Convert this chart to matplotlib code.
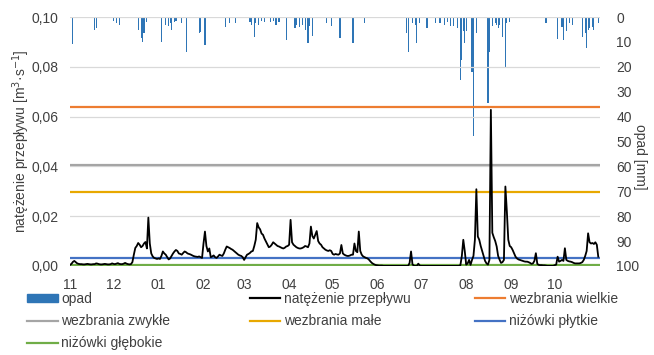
import matplotlib
matplotlib.use("Agg")
import matplotlib.pyplot as plt
from matplotlib.patches import Patch
from matplotlib.lines import Line2D

plt.rcParams['font.family'] = ['Liberation Sans', 'DejaVu Sans']

# natężenie przepływu, dane dobowe w l/s (rok hydrologiczny XI-X)
q_lis = [0.4, 0.8, 1.6, 2.0, 1.5, 1.0, 0.8, 0.7, 0.7, 0.6, 0.6, 0.7, 0.8, 0.7, 0.6,
         0.6, 0.7, 0.7, 1.0, 0.9, 0.7, 0.6, 0.6, 0.7, 0.8, 0.7, 0.6, 0.6, 0.7, 1.0]
q_gru = [0.8, 0.7, 0.9, 1.1, 0.8, 0.7, 0.7, 0.9, 1.2, 0.9, 0.7, 0.6, 0.7, 1.5, 4.5, 7.2,
         8.0, 9.2, 8.5, 7.5, 8.0, 9.0, 9.6, 7.0, 19.4, 9.0, 5.0, 3.8, 3.2, 3.0, 2.8]
q_sty = [3.0, 2.8, 4.0, 5.8, 5.0, 4.5, 3.5, 2.6, 3.0, 4.0, 5.0, 5.8, 6.4, 6.0, 5.0, 4.8,
         4.5, 5.2, 5.8, 5.5, 5.0, 4.8, 4.6, 4.3, 4.0, 3.8, 3.7, 3.6, 3.8, 3.5, 3.2]
q_lut = [9.0, 13.8, 8.0, 5.8, 7.0, 3.5, 3.8, 4.2, 3.5, 3.2, 3.8, 4.5, 4.2, 4.0, 5.0, 6.5,
         7.8, 7.5, 7.2, 6.8, 6.5, 6.0, 5.5, 5.0, 4.5, 4.2, 4.0, 3.5]
q_mar = [2.4, 3.5, 4.5, 4.8, 5.2, 5.8, 6.0, 8.0, 10.5, 17.2, 15.5, 14.7, 13.0, 12.5, 11.0,
         9.8, 8.5, 7.5, 7.8, 8.5, 9.5, 9.0, 8.5, 8.0, 7.8, 7.5, 7.2, 7.0, 7.3, 7.8, 8.0]
q_kwi = [8.5, 18.5, 9.5, 8.5, 8.0, 7.5, 7.2, 7.0, 7.0, 7.2, 7.5, 8.0, 7.8, 7.5, 9.0, 15.8,
         12.0, 11.0, 12.5, 14.0, 10.0, 9.0, 8.5, 7.5, 7.0, 6.5, 6.2, 6.0, 6.3, 6.0]
q_maj = [4.8, 4.5, 4.8, 4.6, 4.5, 5.0, 8.4, 5.0, 4.5, 4.2, 4.0, 4.0, 4.2, 4.5, 4.5, 9.0,
         6.0, 5.5, 13.8, 6.0, 4.5, 3.8, 3.5, 3.2, 3.0, 2.5, 1.8, 1.2, 0.8, 0.5, 0.3]
q_cze = [0.2, 0.1, 0.1, 0.1, 0.0, 0.0, 0.0, 0.0, 0.0, 0.0, 0.0, 0.0, 0.0, 0.0, 0.0,
         0.0, 0.0, 0.0, 0.0, 0.0, 0.0, 0.0, 1.2, 5.8, 0.6, 0.1, 0.0, 0.0, 0.9, 0.1]
q_lip = [0.0, 0.0, 0.0, 0.0, 0.0, 0.0, 0.0, 0.0, 0.0, 0.0, 0.0, 0.0, 0.0, 0.0, 0.0, 0.0,
         0.0, 0.0, 0.0, 0.0, 0.0, 0.0, 0.0, 0.0, 0.0, 0.0, 0.0, 0.3, 4.0, 10.5, 6.0]
q_sie = [0.5, 1.0, 2.4, 0.4, 2.4, 4.0, 10.5, 30.8, 11.8, 10.5, 8.0, 6.0, 4.0, 2.0, 1.0,
         0.5, 2.4, 62.7, 13.3, 11.5, 10.0, 7.8, 4.0, 2.5, 1.2, 1.5, 2.4, 31.9, 22.0, 10.5, 8.0]
q_wrz = [7.5, 6.4, 5.0, 3.7, 3.0, 2.6, 2.4, 2.2, 2.0, 1.8, 1.7, 1.7, 1.5, 1.2, 0.8,
         1.0, 2.0, 5.1, 0.8, 0.4, 0.3, 0.3, 0.2, 0.2, 0.1, 0.0, 0.0, 0.0, 0.0, 0.0]
q_paz = [0.3, 0.5, 3.7, 1.7, 2.0, 2.4, 2.0, 7.1, 2.4, 2.0, 1.8, 1.7, 1.5, 1.2, 1.0, 1.0,
         1.0, 1.0, 1.2, 1.5, 2.4, 4.0, 6.0, 13.1, 9.5, 9.0, 9.2, 8.8, 9.5, 8.5, 3.7]

# opad dobowy [mm]: numer dnia od 1 XI i suma
opad_dzien = [2, 4, 6, 17, 18, 21, 25, 30, 32, 34, 47, 49, 50, 51, 53, 57, 63, 66, 68, 69,
              70, 72, 73, 77, 80, 83, 89, 90, 93, 102, 107, 110, 114, 124, 125, 127, 128,
              130, 132, 134, 138, 140, 142, 144, 149, 155, 156, 158, 160, 162, 164, 165,
              167, 172, 177, 180, 186, 195, 203, 224, 226, 232, 233, 236, 238, 239, 241,
              246, 250, 252, 255, 258, 260, 262, 264, 267, 269, 270, 271, 272, 273, 277,
              278, 280, 288, 289, 291, 293, 294, 295, 296, 298, 300, 301, 303, 317, 320,
              323, 326, 328, 336, 339, 340, 342, 344, 346, 349, 353, 355, 356, 357, 358,
              360, 361, 364]
opad_mm = [11.0, 0.4, 0.4, 5.2, 4.5, 0.3, 0.3, 1.5, 2.5, 3.0, 5.2, 8.5, 10.0, 6.6, 2.0,
           0.3, 10.0, 3.0, 3.6, 2.4, 5.2, 2.0, 1.5, 2.4, 14.0, 0.3, 6.6, 6.0, 11.3, 0.3,
           4.0, 2.4, 2.4, 2.0, 3.0, 7.9, 2.5, 3.0, 1.5, 2.0, 2.0, 1.5, 3.0, 2.0, 9.2,
           4.6, 3.0, 4.0, 3.0, 5.2, 10.3, 3.6, 7.5, 0.3, 2.5, 3.5, 8.6, 10.6, 2.5, 0.4,
           0.4, 6.6, 14.0, 2.4, 3.2, 10.3, 2.4, 4.6, 0.4, 2.4, 2.4, 3.0, 2.0, 3.6, 3.6,
           4.6, 25.3, 17.3, 5.5, 10.6, 5.5, 22.0, 48.0, 6.6, 34.7, 14.0, 3.6, 2.4, 3.0,
           4.6, 3.0, 8.0, 20.0, 2.4, 2.0, 0.4, 0.4, 0.4, 0.4, 2.4, 9.0, 4.0, 9.3, 5.5,
           2.4, 3.0, 0.4, 7.9, 6.6, 12.6, 5.2, 4.6, 4.0, 5.2, 2.4]

# progi [m3/s]
wezbrania_wielkie = 0.064
wezbrania_zwykle = 0.0405
wezbrania_male = 0.0295
nizowki_plytkie = 0.0032
nizowki_glebokie = 0.0005

miesiace = ['11', '12', '01', '02', '03', '04', '05', '06', '07', '08', '09', '10']
dni_w_miesiacu = [30, 31, 31, 28, 31, 30, 31, 30, 31, 31, 30, 31]

przeplyw = [v / 1000 for v in (q_lis + q_gru + q_sty + q_lut + q_mar + q_kwi + q_maj
                               + q_cze + q_lip + q_sie + q_wrz + q_paz)]
dni = list(range(len(przeplyw)))
poczatki = [sum(dni_w_miesiacu[:i]) for i in range(len(dni_w_miesiacu))]

tekst = '#404040'
fig = plt.figure(figsize=(6.54, 3.55), dpi=100)
ax = fig.add_axes([0.107, 0.251, 0.81, 0.701])
ax2 = ax.twinx()
ax.set_zorder(ax2.get_zorder() + 1)
ax.patch.set_visible(False)

# opad - słupki od góry
ax2.bar(opad_dzien, opad_mm, width=0.8, color='#2E75B6', align='center')
ax2.set_ylim(100, 0)
ax2.set_yticks(range(0, 101, 10))
ax2.set_ylabel('opad [mm]', rotation=270, fontsize=10, color=tekst)
ax2.yaxis.set_label_coords(1.09, 0.44)

# linie progowe
ax.axhline(wezbrania_wielkie, color='#ED7D31', lw=1.6)
ax.axhline(wezbrania_zwykle, color='#A5A5A5', lw=1.6)
ax.axhline(wezbrania_male, color='#E8A800', lw=1.6)
ax.axhline(nizowki_plytkie, color='#4472C4', lw=1.6)
ax.axhline(nizowki_glebokie, color='#70AD47', lw=1.6)
ax.plot(dni, przeplyw, color='black', lw=1.3, zorder=5)

ax.set_xlim(0, 365)
ax.set_ylim(0, 0.10)
ax.set_yticks([0, 0.02, 0.04, 0.06, 0.08, 0.10])
ax.set_yticklabels(['0,00', '0,02', '0,04', '0,06', '0,08', '0,10'])
ax.set_xticks(poczatki)
ax.set_xticklabels(miesiace)
ax.grid(axis='y', color='#D9D9D9', lw=0.9)
ax.set_axisbelow(True)
ax.set_ylabel('natężenie przepływu [m$^3$·s$^{-1}$]', fontsize=10, color=tekst)
ax.yaxis.set_label_coords(-0.072, 0.5)

for a in (ax, ax2):
    for s in a.spines.values():
        s.set_visible(False)
    a.tick_params(length=0, labelsize=10, labelcolor=tekst)
ax.tick_params(axis='x', pad=9)
ax.tick_params(axis='y', pad=8)
ax2.tick_params(axis='y', pad=12)

# legenda w trzech kolumnach
h_opad = Patch(color='#2E75B6')
h = lambda c: Line2D([], [], color=c, lw=1.6)
kolumny = [
    (0.042, [(h_opad, 'opad'), (h('#A5A5A5'), 'wezbrania zwykłe'), (h('#70AD47'), 'niżówki głębokie')]),
    (0.382, [(h('black'), 'natężenie przepływu'), (h('#E8A800'), 'wezbrania małe')]),
    (0.726, [(h('#ED7D31'), 'wezbrania wielkie'), (h('#4472C4'), 'niżówki płytkie')]),
]
for x0, pozycje in kolumny:
    fig.legend([p[0] for p in pozycje], [p[1] for p in pozycje], loc='upper left',
               bbox_to_anchor=(x0, 0.178), frameon=False, fontsize=10,
               handlelength=2.2, handleheight=0.55, handletextpad=0.25,
               labelspacing=0.6, borderpad=0, borderaxespad=0, labelcolor=tekst)

fig.savefig('out.png', dpi=100)
